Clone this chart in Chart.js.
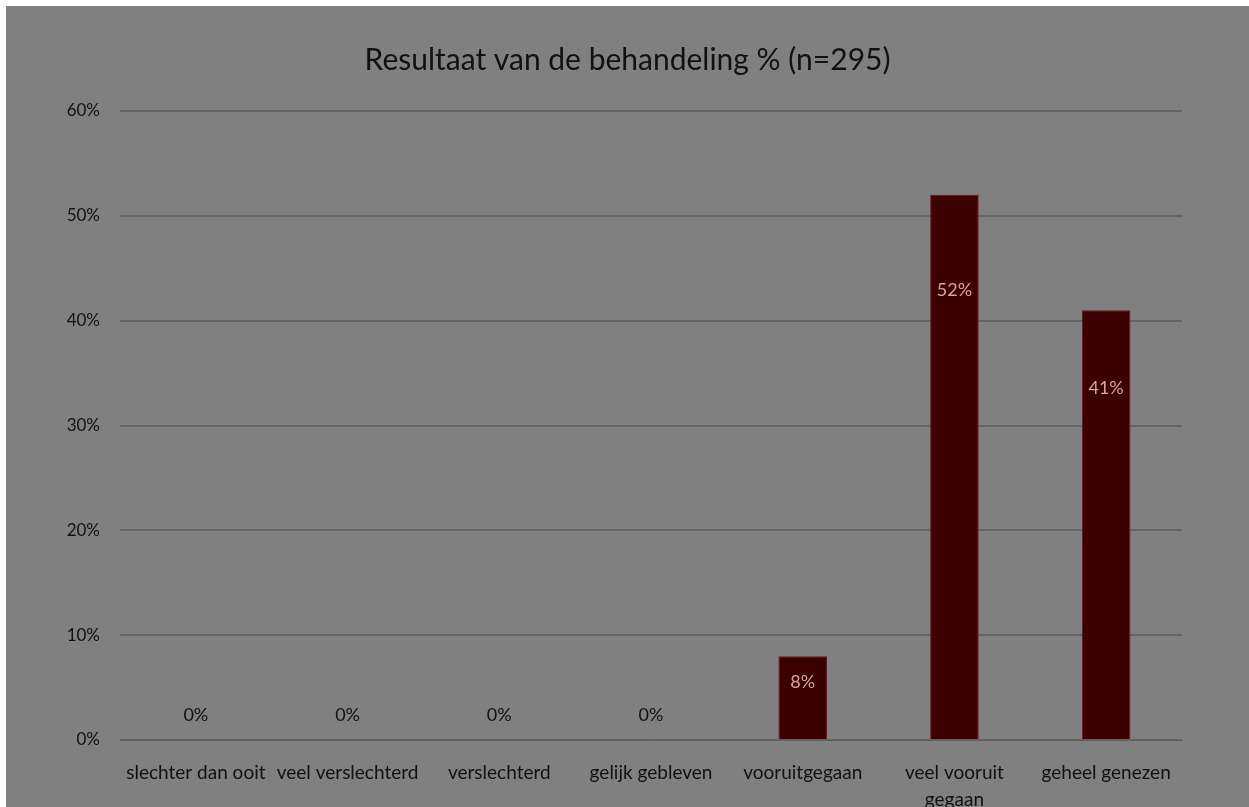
<!DOCTYPE html>
<html>
<head>
<meta charset="utf-8">
<script src="https://cdn.jsdelivr.net/npm/chart.js@4/dist/chart.umd.min.js"></script>
<style>
    html, body { margin: 0; padding: 0; background: #fff; }
    #wrap { position: absolute; left: 6px; top: 6px; width: 1243px; height: 801px; background: #808080; }
</style>
</head>
<body>
<div id="wrap"><canvas id="chart" width="1243" height="801"></canvas></div>
<script>
// Data
const categories = ['slechter dan ooit', 'veel verslechterd', 'verslechterd', 'gelijk gebleven', 'vooruitgegaan', ['veel vooruit', 'gegaan'], 'geheel genezen'];
const percentages = [0, 0, 0, 0, 8, 52, 41];
const titleText = 'Resultaat van de behandeling % (n=295)';

const FONT = 'Lato, "Open Sans", sans-serif';

// value labels: inside the bar for filled bars, above the axis for 0%
const valueLabels = {
    id: 'valueLabels',
    afterDatasetsDraw(chart) {
        const ctx = chart.ctx;
        const meta = chart.getDatasetMeta(0);
        ctx.save();
        ctx.textAlign = 'center';
        ctx.textBaseline = 'middle';
        ctx.font = '18px ' + FONT;
        meta.data.forEach((bar, i) => {
            const v = percentages[i];
            const txt = v + '%';
            if (v > 0) {
                const h = bar.base - bar.y;
                ctx.fillStyle = '#d2a798';
                ctx.fillText(txt, bar.x, bar.y + h * 0.15 + 14);
            } else {
                ctx.fillStyle = '#111';
                ctx.fillText(txt, bar.x, bar.base - 25);
            }
        });
        ctx.restore();
    }
};

new Chart(document.getElementById('chart'), {
    type: 'bar',
    data: {
        labels: categories,
        datasets: [{
            data: percentages,
            backgroundColor: '#3c0000',
            borderColor: '#7a1010',
            borderWidth: 1,
            barPercentage: 0.32,
            categoryPercentage: 1
        }]
    },
    options: {
        responsive: false,
        animation: false,
        layout: { padding: 0 },
        plugins: {
            legend: { display: false },
            tooltip: { enabled: false },
            title: {
                display: true,
                text: titleText,
                color: '#111',
                font: { family: FONT, size: 30, weight: 'normal' },
                padding: { top: 36, bottom: 33 }
            }
        },
        scales: {
            x: {
                grid: { display: false, drawTicks: false },
                border: { color: '#5e5e5e', width: 1 },
                ticks: { color: '#111', font: { family: FONT, size: 19, lineHeight: 1.4 }, padding: 20, maxRotation: 0, autoSkip: false },
                afterFit(scale) { scale.height = 67; }
            },
            y: {
                min: 0, max: 60,
                grid: { color: '#646464', lineWidth: 2, drawTicks: false },
                border: { display: false },
                ticks: { stepSize: 10, color: '#111', font: { family: FONT, size: 17 }, padding: 20, callback: v => v + '%' },
                afterFit(scale) { scale.width = 114; }
            },
            // empty right-hand spacer so the plot ends where the original does
            ySpacer: {
                position: 'right',
                min: 0, max: 60,
                grid: { display: false },
                border: { display: false },
                ticks: { display: false },
                afterFit(scale) { scale.width = 67; }
            }
        }
    },
    plugins: [valueLabels]
});
</script>
</body>
</html>
